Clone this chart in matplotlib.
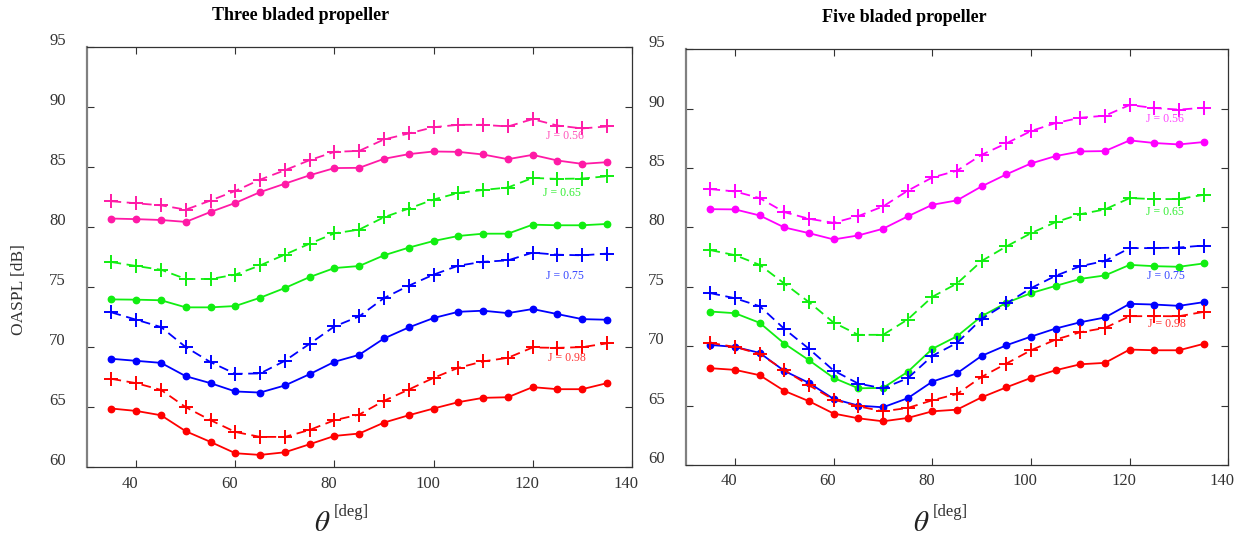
import matplotlib
matplotlib.use("Agg")
import matplotlib.pyplot as plt
import matplotlib.transforms as mtransforms

# ---------------- data ----------------
theta = [35, 40, 45, 50, 55, 60, 65, 70, 75, 80, 85, 90, 95, 100, 105, 110, 115, 120, 125, 130, 135]

# Three bladed propeller  (solid = dots, dashed = plus)
three_056_solid = [80.7, 80.65, 80.58, 80.42, 81.25, 82.0, 82.9, 83.6, 84.3, 84.9, 84.92, 85.67, 86.06, 86.28, 86.25, 86.03, 85.64, 86.0, 85.53, 85.25, 85.39]
three_056_dash = [82.14, 81.97, 81.8, 81.44, 82.2, 83.0, 83.94, 84.72, 85.56, 86.25, 86.33, 87.28, 87.78, 88.3, 88.5, 88.5, 88.36, 88.97, 88.44, 88.2, 88.36]
three_065_solid = [73.97, 73.95, 73.9, 73.31, 73.31, 73.42, 74.11, 74.92, 75.83, 76.58, 76.75, 77.64, 78.28, 78.83, 79.25, 79.44, 79.44, 80.19, 80.14, 80.14, 80.25]
three_065_dash = [77.08, 76.75, 76.44, 75.67, 75.67, 76.03, 76.8, 77.7, 78.61, 79.47, 79.78, 80.81, 81.53, 82.28, 82.83, 83.08, 83.28, 84.08, 84.0, 84.03, 84.22]
three_075_solid = [69.03, 68.86, 68.69, 67.58, 67.0, 66.31, 66.22, 66.81, 67.75, 68.78, 69.36, 70.72, 71.64, 72.42, 72.94, 73.03, 72.83, 73.17, 72.75, 72.33, 72.28]
three_075_dash = [72.89, 72.28, 71.67, 70.0, 68.75, 67.78, 67.81, 68.86, 70.28, 71.72, 72.56, 74.08, 75.11, 76.03, 76.78, 77.1, 77.22, 77.86, 77.69, 77.64, 77.78]
three_098_solid = [64.89, 64.69, 64.33, 63.0, 62.11, 61.17, 61.03, 61.25, 61.92, 62.61, 62.81, 63.72, 64.33, 64.89, 65.42, 65.78, 65.83, 66.67, 66.5, 66.5, 67.0]
three_098_dash = [67.36, 67.0, 66.44, 65.0, 63.92, 62.94, 62.53, 62.53, 63.11, 63.92, 64.39, 65.53, 66.47, 67.44, 68.28, 68.81, 69.11, 69.97, 69.94, 70.0, 70.31]

# Five bladed propeller
five_056_solid = [81.54, 81.52, 81.01, 80.0, 79.52, 78.99, 79.33, 79.89, 80.93, 81.91, 82.28, 83.46, 84.47, 85.39, 86.01, 86.4, 86.43, 87.33, 87.11, 86.99, 87.19]
five_056_dash = [83.23, 83.03, 82.47, 81.29, 80.73, 80.39, 80.96, 81.77, 83.09, 84.21, 84.78, 86.12, 87.08, 88.12, 88.79, 89.24, 89.41, 90.31, 90.06, 89.92, 90.08]
five_065_solid = [72.92, 72.78, 71.97, 70.22, 68.82, 67.33, 66.46, 66.49, 67.84, 69.78, 70.84, 72.53, 73.65, 74.47, 75.08, 75.67, 75.96, 76.85, 76.74, 76.69, 76.97]
five_065_dash = [78.09, 77.67, 76.85, 75.28, 73.71, 71.99, 70.96, 70.96, 72.25, 74.16, 75.28, 77.18, 78.4, 79.52, 80.45, 81.12, 81.52, 82.47, 82.39, 82.39, 82.75]
five_075_solid = [70.11, 69.94, 69.44, 67.92, 66.91, 65.56, 65.0, 64.86, 65.62, 67.02, 67.72, 69.19, 70.08, 70.81, 71.49, 72.02, 72.42, 73.57, 73.51, 73.4, 73.71]
five_075_dash = [74.47, 74.04, 73.37, 71.46, 69.78, 67.95, 66.85, 66.46, 67.3, 69.19, 70.28, 72.3, 73.6, 74.89, 75.93, 76.74, 77.18, 78.26, 78.26, 78.31, 78.48]
five_098_solid = [68.15, 68.01, 67.56, 66.24, 65.37, 64.33, 63.93, 63.68, 63.96, 64.52, 64.66, 65.7, 66.54, 67.33, 67.98, 68.48, 68.6, 69.72, 69.66, 69.66, 70.2]
five_098_dash = [70.28, 69.94, 69.35, 67.98, 66.71, 65.51, 64.94, 64.52, 64.8, 65.45, 65.98, 67.42, 68.54, 69.66, 70.56, 71.18, 71.54, 72.53, 72.53, 72.53, 72.89]

labels_J = ["J = 0.56", "J = 0.65", "J = 0.75", "J = 0.98"]
titles = ["Three bladed propeller", "Five bladed propeller"]
x_ticks = [40, 60, 80, 100, 120, 140]
y_ticks = [60, 65, 70, 75, 80, 85, 90, 95]

# ---------------- style ----------------
plt.rcParams["font.family"] = ["Liberation Serif", "DejaVu Serif"]
plt.rcParams["mathtext.fontset"] = "stix"
plt.rcParams["lines.scale_dashes"] = False

W, H = 1238, 541
fig = plt.figure(figsize=(W / 100, H / 100), dpi=100)


def px_axes(x0, y0, x1, y1):
    return fig.add_axes([x0 / W, 1 - y1 / H, (x1 - x0) / W, (y1 - y0) / H])


def ftext(x, y, s, **kw):
    fig.text(x / W, 1 - y / H, s, **kw)


axL = px_axes(86.7, 46.7, 631.7, 467.3)
axR = px_axes(685.7, 49.3, 1228.3, 465.0)

colors_L = ["#ff1aa6", "#11ee11", "#0000ff", "#ff0000"]
colors_R = ["#ff00ff", "#11ee11", "#0000ff", "#ff0000"]
text_cols_L = ["#ff55bb", "#33ee33", "#3344ff", "#ff3333"]
text_cols_R = ["#ff44ff", "#33ee33", "#3344ff", "#ff3333"]

sets = [
    (axL, [(three_056_solid, three_056_dash), (three_065_solid, three_065_dash),
           (three_075_solid, three_075_dash), (three_098_solid, three_098_dash)],
     colors_L, text_cols_L,
     [(126.6, 87.55), (126.0, 82.8), (126.5, 75.9), (127.0, 69.1)]),
    (axR, [(five_056_solid, five_056_dash), (five_065_solid, five_065_dash),
           (five_075_solid, five_075_dash), (five_098_solid, five_098_dash)],
     colors_R, text_cols_R,
     [(127.1, 89.1), (127.1, 81.3), (127.3, 75.9), (127.6, 71.9)]),
]

for ax, series, cols, tcols, tpos in sets:
    for (solid, dash), c, tc, lab, (tx, ty) in zip(series, cols, tcols, labels_J, tpos):
        ax.plot(theta, dash, color=c, lw=1.3, dashes=(7, 4), marker="+", ms=9.5, mew=1.4)
        ax.plot(theta, solid, color=c, lw=1.3, marker="o", ms=4.6, mec=c)
        ax.text(tx, ty, lab, color=tc, fontsize=8.5, ha="center", va="center")
    ax.set_xlim(30, 140)
    ax.set_ylim(60, 95)
    ax.set_xticks(x_ticks)
    ax.set_yticks(y_ticks)
    ax.tick_params(direction="in", length=5, width=0.8, top=True, right=True,
                   labelsize=12, labelcolor="#333333", color="#333333")
    ax.tick_params(axis="y", pad=15)
    ax.tick_params(axis="x", pad=6)
    for lbl in ax.get_yticklabels():
        lbl.set_transform(lbl.get_transform() + mtransforms.ScaledTranslation(0, 0.08, fig.dpi_scale_trans))
    for lbl in ax.get_xticklabels():
        lbl.set_transform(lbl.get_transform() + mtransforms.ScaledTranslation(-0.06, 0, fig.dpi_scale_trans))
    ax.spines["left"].set_color("#808080")
    ax.spines["left"].set_linewidth(1.6)
    for s in ["top", "right", "bottom"]:
        ax.spines[s].set_color("#333333")
        ax.spines[s].set_linewidth(0.9)

# titles
ftext(301, 16, titles[0], fontsize=13, fontweight="bold", ha="center", va="center")
ftext(904, 17, titles[1], fontsize=13, fontweight="bold", ha="center", va="center")

# y label
ftext(19, 290, "OASPL [dB]", fontsize=12.5, rotation=90, ha="center", va="center", color="#333333")

# x labels
for cx in (322, 921):
    ftext(cx, 524, r"$\theta$", fontsize=21, ha="center", va="center", color="#222222")
    ftext(cx + 12, 512, "[deg]", fontsize=12, ha="left", va="center", color="#333333")

fig.savefig("out.png", dpi=100)
